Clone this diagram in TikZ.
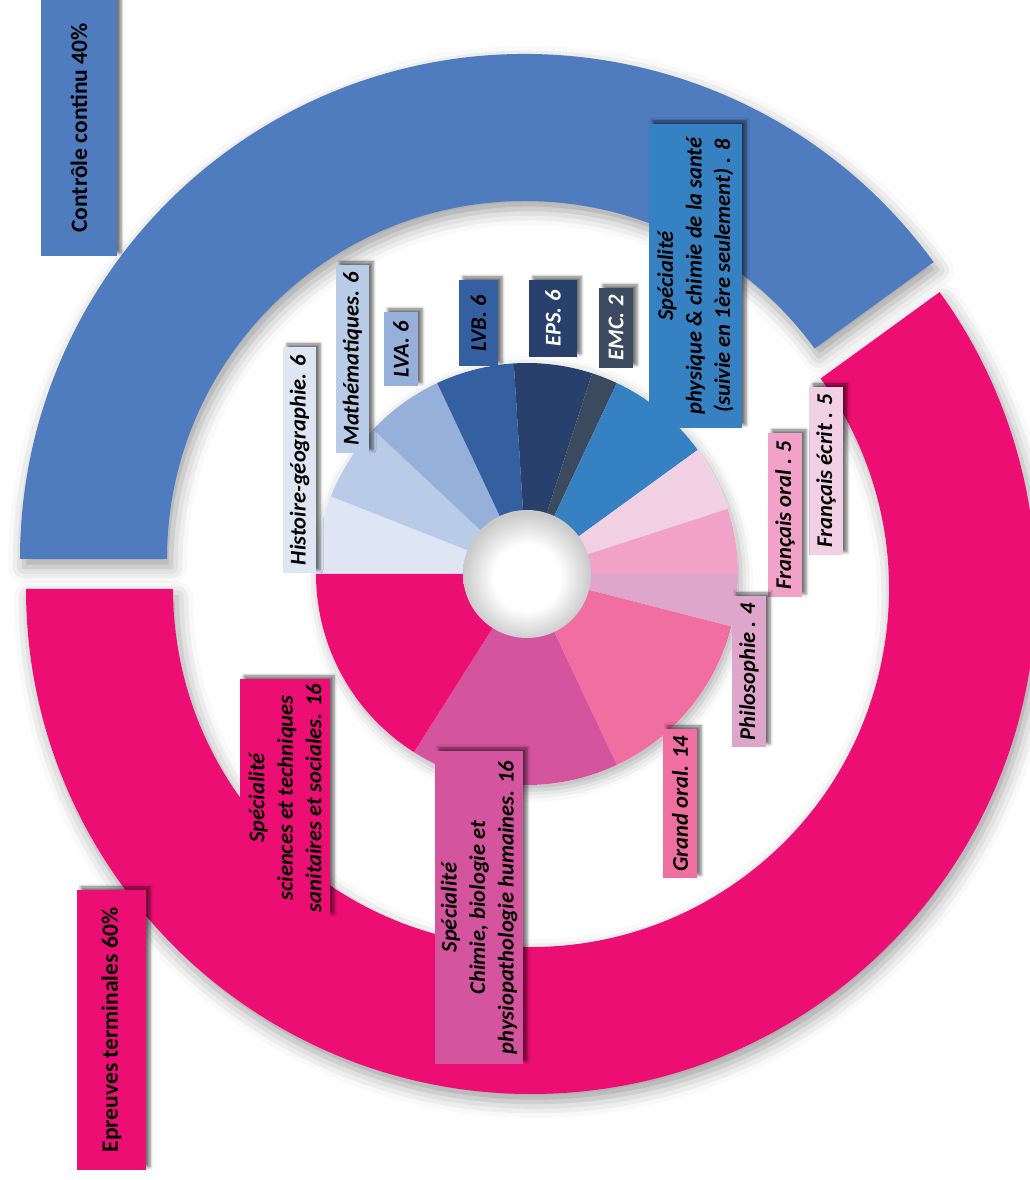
\documentclass[tikz,border=0pt]{standalone}
\usepackage{fontspec}
\setmainfont{Carlito}
\usepackage{tikz}
\usetikzlibrary{shadows.blur}

\definecolor{ccblue}{HTML}{4F7BBF}
\definecolor{etpink}{HTML}{ED0E73}
\definecolor{cHist}{HTML}{DEE6F3}
\definecolor{cMath}{HTML}{B8CCE8}
\definecolor{cLva}{HTML}{97B0DA}
\definecolor{cLvb}{HTML}{3460A2}
\definecolor{cEps}{HTML}{293F6C}
\definecolor{cEmc}{HTML}{3B4A5F}
\definecolor{cPhys}{HTML}{3581C1}
\definecolor{cFrE}{HTML}{F2D0E4}
\definecolor{cFrO}{HTML}{F2A2C8}
\definecolor{cPhilo}{HTML}{DFA6CC}
\definecolor{cGrand}{HTML}{F06EA0}
\definecolor{cChim}{HTML}{D4549E}

\pgfdeclareradialshading{holeshade}{\pgfpoint{0bp}{-2bp}}{color(0bp)=(white); color(13bp)=(white); color(25bp)=(black!21); color(50bp)=(black!21)}

\begin{document}
\begin{tikzpicture}
  [x=1pt,y=1pt,
   ring/.style={blur shadow={shadow xshift=4pt,shadow yshift=-8pt,shadow blur radius=16pt,shadow opacity=38}},
   lab/.style={rotate=90,inner sep=0pt,align=center,text=black,
     font=\fontsize{22.5}{28.5}\selectfont\bfseries\itshape,
     blur shadow={shadow xshift=4pt,shadow yshift=3pt,shadow blur radius=3pt,shadow opacity=55}},
   big/.style={lab,font=\fontsize{23.5}{28}\selectfont\bfseries}
  ]
  \useasboundingbox (0,0) rectangle (1030,1180);

  % outer ring
  \coordinate (cc) at (525,621);
  \coordinate (et) at (531,591);
  \begin{scope}[shift={(cc)}]
    \fill[ccblue,ring] (36:505) arc[start angle=36,end angle=180,radius=505]
      -- (180:358) arc[start angle=180,end angle=36,radius=358] -- cycle;
  \end{scope}
  \begin{scope}[shift={(et)}]
    \fill[etpink,ring] (-180:505) arc[start angle=-180,end angle=36,radius=505]
      -- (36:358) arc[start angle=36,end angle=-180,radius=358] -- cycle;
  \end{scope}

  % pie
  \coordinate (pie) at (527,606);
  \begin{scope}[shift={(pie)}]
    \fill[white,blur shadow={shadow xshift=3pt,shadow yshift=-5pt,shadow blur radius=12pt,shadow opacity=32}]
      (0,0) circle[radius=211];
    \foreach \s/\e/\c in {180/158.4/cHist,158.4/136.8/cMath,136.8/115.2/cLva,
        115.2/93.6/cLvb,93.6/72/cEps,72/64.8/cEmc,64.8/36/cPhys,36/18/cFrE,
        18/0/cFrO,0/-14.4/cPhilo,-14.4/-64.8/cGrand,-64.8/-122.4/cChim,-122.4/-180/etpink}
      \fill[\c] (0,0) -- (\s:211) arc[start angle=\s,end angle=\e,radius=211] -- cycle;
    \shade[shading=holeshade] (0,0) circle[radius=64];
  \end{scope}

  % labels
  \node[big,fill=ccblue,minimum width=256,minimum height=76] (ctrl) at (79,1052) {Contrôle continu 40\%};
  \node[big,fill=etpink,minimum width=280,minimum height=69] (epr) at (111.5,150) {Epreuves terminales 60\%};
  \node[lab,fill=cHist,minimum width=226,minimum height=33] (hist) at (299.5,720) {Histoire-géographie. 6};
  \node[lab,fill=cMath,minimum width=188,minimum height=33] (math) at (352.5,821) {Mathématiques. 6};
  \node[lab,fill=cLva,minimum width=74,minimum height=34] (lva) at (401,831) {LVA. 6};
  \node[lab,fill=cLvb,minimum width=86,minimum height=39] (lvb) at (478.5,857) {LVB. 6};
  \node[lab,fill=cEps,text=white,minimum width=77,minimum height=48] (eps) at (553,861.5) {EPS. 6};
  \node[lab,fill=cEmc,text=white,minimum width=80,minimum height=34] (emc) at (616,852) {EMC. 2};
  \node[lab,fill=cPhys,minimum width=304,minimum height=93] (phys) at (695.5,904)
    {Spécialité\\physique \& chimie de la santé\\(suivie en 1ère seulement) . 8};
  \node[lab,fill=cFrE,minimum width=168,minimum height=34] (frecrit) at (826,709) {Français écrit . 5};
  \node[lab,fill=cFrO,minimum width=164,minimum height=34] (froral) at (785,665) {Français oral . 5};
  \node[lab,fill=cPhilo,minimum width=151,minimum height=34] (philo) at (749,508.5) {Philosophie . 4};
  \node[lab,fill=cGrand,minimum width=149,minimum height=34] (grand) at (680,376.5) {Grand oral. 14};
  \node[lab,fill=cChim,minimum width=313,minimum height=88] (chimie) at (479,272.5)
    {Spécialité\\Chimie, biologie et\\physiopathologie humaines. 16};
  \node[lab,fill=etpink,minimum width=238,minimum height=90] (stss) at (285,382)
    {Spécialité\\sciences et techniques\\sanitaires et sociales. 16};

\end{tikzpicture}
\end{document}
